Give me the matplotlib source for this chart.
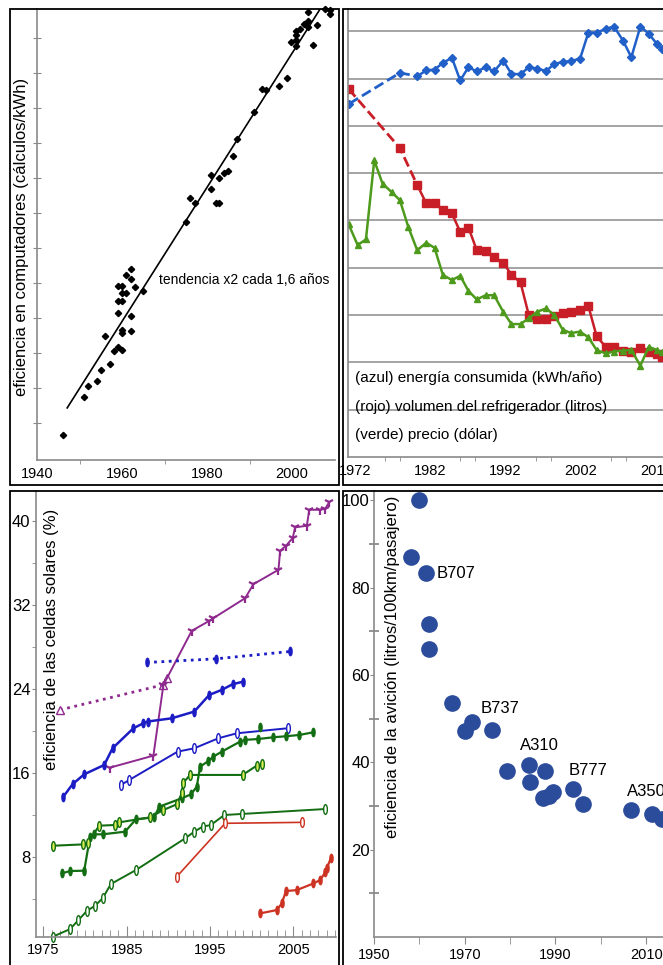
import numpy as np
import matplotlib
matplotlib.use("Agg")
import matplotlib.pyplot as plt
from matplotlib.patches import Rectangle
from matplotlib.path import Path

plt.rcParams['font.family'] = ['Liberation Sans', 'DejaVu Sans']

# ---------------- data ----------------
# panel 1: computers (log units, one tick = one unit)
comp_years = [1946.0, 1951.1, 1952.0, 1954.1, 1955.1, 1956.1, 1957.1, 1958.1, 1959.0, 1960.0,
              1959.0, 1959.0, 1959.0, 1960.1, 1960.1, 1960.1, 1960.1, 1960.1, 1961.0, 1961.0,
              1962.0, 1962.0, 1962.0, 1962.0, 1963.0, 1965.0, 1975.1, 1976.0, 1977.1, 1980.9,
              1980.9, 1982.0, 1982.9, 1982.9, 1984.0, 1985.0, 1986.0, 1987.1, 1991.0, 1992.9,
              1993.9, 1996.9, 1998.9, 1999.8, 2000.9, 2000.9, 2000.9, 2000.9, 2001.9, 2002.8,
              2003.8, 2003.8, 2003.8, 2004.9, 2005.9, 2007.8, 2008.9, 2008.9]
comp_vals = [0.65, 1.74, 2.05, 2.21, 2.50, 3.49, 2.69, 3.05, 3.16, 3.10,
             4.14, 4.50, 4.93, 4.93, 4.48, 4.71, 3.67, 3.57, 4.71, 5.24,
             5.40, 5.11, 4.05, 3.62, 4.90, 4.78, 6.76, 7.42, 7.30, 8.09,
             7.70, 7.30, 7.30, 8.00, 8.14, 8.21, 8.64, 9.11, 9.90, 10.56,
             10.52, 10.63, 10.87, 11.91, 11.95, 12.10, 12.22, 11.78, 12.26, 12.41,
             12.50, 12.75, 12.33, 11.81, 12.38, 12.83, 12.71, 12.81]
trend_years = [1947.1, 2006.6]
trend_vals = [1.43, 12.84]

# panel 2: refrigerators (grid units)
fr_years = [1971.3, 1978.0, 1980.3, 1981.5, 1982.6, 1983.7, 1984.9, 1986.0, 1987.1, 1988.2,
            1989.4, 1990.5, 1991.7, 1992.8, 1994.0, 1995.1, 1996.2, 1997.4, 1998.5, 1999.6,
            2000.7, 2001.9, 2003.0, 2004.1, 2005.3, 2006.4, 2007.6, 2008.7, 2009.9, 2011.0,
            2012.1, 2012.8]
energy = [7.47, 8.12, 8.05, 8.17, 8.19, 8.33, 8.44, 7.96, 8.24, 8.15,
          8.24, 8.15, 8.38, 8.10, 8.09, 8.24, 8.21, 8.16, 8.31, 8.35,
          8.37, 8.42, 8.97, 8.97, 9.05, 9.10, 8.80, 8.45, 9.10, 8.95,
          8.73, 8.63]
volume = [7.78, 6.53, 5.75, 5.36, 5.36, 5.23, 5.15, 4.76, 4.85, 4.37,
          4.36, 4.22, 4.11, 3.85, 3.69, 3.00, 2.91, 2.91, 2.98, 3.04,
          3.07, 3.11, 3.19, 2.55, 2.33, 2.33, 2.25, 2.23, 2.30, 2.23,
          2.17, 2.12]
vol_years = [1971.2] + fr_years[1:]
price_years = [1971.2, 1972.4, 1973.5, 1974.6, 1975.7, 1976.9, 1978.0, 1979.1] + fr_years[2:]
price = [4.92, 4.48, 4.60, 6.27, 5.78, 5.60, 5.43, 4.87,
         4.37, 4.53, 4.42, 3.85, 3.74, 3.83, 3.51, 3.33, 3.42, 3.42,
         3.07, 2.81, 2.81, 2.93, 3.07, 3.14, 3.00, 2.69, 2.62, 2.65,
         2.53, 2.26, 2.19, 2.23, 2.25, 2.26, 1.93, 2.33, 2.26, 2.21]
fr_labels = ["(azul) energía consumida (kWh/año)",
             "(rojo) volumen del refrigerador (litros)",
             "(verde) precio (dólar)"]

# panel 3: solar cells (%)
pur_dash_x = [1977.0, 1989.3, 1989.8]
pur_dash_y = [22.03, 24.41, 25.05]
pur_x = [1983.0, 1988.2, 1989.4, 1992.8, 1994.9, 1995.4, 1999.2, 2000.2, 2003.2, 2003.4,
         2004.1, 2004.9, 2005.2, 2006.6, 2006.9, 2008.2, 2008.8, 2009.3]
pur_y = [16.53, 17.67, 24.41, 29.57, 30.52, 30.78, 32.68, 34.02, 35.39, 37.20,
         37.68, 38.41, 39.43, 39.59, 41.11, 41.11, 41.21, 41.84]
blu_dot_x = [1987.4, 1995.7, 2004.6]
blu_dot_y = [26.55, 26.90, 27.60]
blu_x = [1977.4, 1978.5, 1979.9, 1982.3, 1983.3, 1985.8, 1987.0, 1987.5, 1990.4, 1993.1,
         1994.9, 1996.4, 1997.7, 1999.0]
blu_y = [13.76, 14.94, 15.89, 16.78, 18.37, 20.28, 20.76, 20.92, 21.23, 21.87,
         23.46, 23.94, 24.48, 24.73]
blu_open_x = [1984.3, 1985.3, 1991.1, 1993.1, 1996.0, 1998.2, 2004.3]
blu_open_y = [14.87, 15.35, 18.05, 18.37, 19.33, 19.80, 20.28]
grn_x = [1977.2, 1978.2, 1979.9, 1980.6, 1981.1, 1982.1, 1984.8, 1986.1, 1988.3, 1988.9,
         1991.6, 1992.7, 1993.4, 1993.8, 1994.8, 1995.4, 1996.4, 1998.6, 1999.2, 2000.8,
         2002.6, 2004.1, 2005.7, 2007.4]
grn_y = [6.44, 6.67, 6.70, 9.94, 10.17, 10.17, 10.42, 11.60, 11.79, 12.81,
         13.60, 13.98, 14.71, 16.62, 17.16, 17.58, 18.05, 19.01, 19.17, 19.26,
         19.42, 19.52, 19.64, 19.90]
grn_single_x = [2001.0]
grn_single_y = [20.44]
yg_x = [1976.1, 1979.8, 1980.3, 1981.7, 1983.6, 1984.1, 1987.8, 1989.4, 1991.0, 1991.6,
        1991.8, 1992.6, 1998.9, 2000.6, 2001.2]
yg_y = [9.08, 9.21, 9.31, 10.99, 11.06, 11.31, 11.79, 12.49, 13.03, 14.08,
        15.10, 15.83, 15.83, 16.72, 16.85]
grn_open_x = [1976.1, 1978.2, 1979.2, 1980.2, 1981.2, 1982.1, 1983.1, 1986.1, 1992.0, 1993.1,
              1994.1, 1995.1, 1996.7, 1998.8, 2008.8]
grn_open_y = [0.40, 1.13, 1.99, 2.85, 3.36, 4.06, 5.43, 6.76, 9.78, 10.42,
              10.90, 11.06, 12.01, 12.11, 12.58]
red_open_x = [1991.0, 1996.8, 2006.0]
red_open_y = [6.13, 11.22, 11.31]
red_x = [2001.0, 2003.0, 2003.6, 2004.1, 2005.4, 2007.4, 2008.2, 2008.8, 2009.0, 2009.5]
red_y = [2.63, 2.95, 3.58, 4.76, 4.85, 5.49, 5.81, 6.54, 6.92, 7.94]

# panel 4: aviation
av_years = [1959.9, 1958.1, 1961.4, 1962.1, 1962.1, 1967.2, 1970.1, 1971.6, 1976.0, 1979.3,
            1984.1, 1984.4, 1987.7, 1987.2, 1988.5, 1989.4, 1993.8, 1996.0, 2006.6, 2011.2,
            2013.4]
av_vals = [100.0, 87.1, 83.4, 71.7, 65.9, 53.6, 47.1, 49.3, 47.3, 37.9,
           39.3, 35.4, 37.9, 31.8, 32.3, 33.1, 33.8, 30.4, 29.0, 28.1,
           27.1]
av_names = ["B707", "B737", "A310", "B777", "A350"]
av_name_x = [1963.9, 1973.4, 1982.2, 1992.8, 2005.8]
av_name_y = [83.3, 52.4, 43.9, 38.2, 33.4]

# ---------------- figure ----------------
W, H = 663, 965
fig = plt.figure(figsize=(W / 100, H / 100), dpi=100)
GRAY = '#8a8a8a'


def px_axes(l, t, r, b):
    return fig.add_axes([l / W, 1 - b / H, (r - l) / W, (b - t) / H])


def style(ax):
    for s in ['top', 'right']:
        ax.spines[s].set_visible(False)
    for s in ['left', 'bottom']:
        ax.spines[s].set_color(GRAY)
        ax.spines[s].set_linewidth(1.2)
    ax.patch.set_alpha(0)
    ax.tick_params(which='both', color=GRAY)


circ = Path.unit_circle()
ell = Path(circ.vertices * [0.38, 1.0], circ.codes)

# panel 1
ax1 = px_axes(37, 9, 335, 460)
style(ax1)
ax1.plot(trend_years, trend_vals, color='black', lw=1.2)
ax1.plot(comp_years, comp_vals, 'D', color='black', ms=3.2, clip_on=False)
ax1.set_xlim(1940, 2010.1)
ax1.set_ylim(-0.06, 12.84)
ax1.set_xticks([1940, 1960, 1980, 2000])
ax1.set_xticks([1950, 1970, 1990], minor=True)
ax1.set_yticks(range(1, 13))
ax1.set_yticklabels([])
ax1.tick_params(axis='x', which='major', length=0, labelsize=10.5, pad=5)
ax1.tick_params(axis='x', which='minor', length=3)
ax1.tick_params(axis='y', direction='inout', length=6)
ax1.text(1968.6, 5.1, "tendencia x2 cada 1,6 años", fontsize=10, va='center', ha='left')
fig.text(22 / W, 1 - 237 / H, "eficiencia en computadores (cálculos/kWh)", rotation=90,
         ha='center', va='center', fontsize=12)

# panel 2
ax2 = px_axes(348, 9, 663, 457)
style(ax2)
ax2.set_xlim(1971.12, 2012.9)
ax2.set_ylim(0, 9.47)
ax2.set_yticks(range(1, 10))
ax2.set_yticklabels([])
ax2.grid(axis='y', color='#8c8c8c', lw=1.1)
ax2.tick_params(axis='y', length=0)
ax2.set_xticks([1972, 1982, 1992, 2002, 2012])
ax2.set_xticks([1976, 1978, 1986, 1988, 1996, 1998, 2006, 2008], minor=True)
ax2.tick_params(axis='x', which='major', length=0, labelsize=10.5, pad=5)
ax2.tick_params(axis='x', which='minor', length=3)
BLUE, RED, GREEN = '#2160c8', '#c81e28', '#4e9a1c'
ax2.plot(fr_years[:3], energy[:3], '--', color=BLUE, lw=2)
ax2.plot(fr_years[:2], energy[:2], 'D', color=BLUE, ms=4.5)
ax2.plot(fr_years[2:], energy[2:], '-D', color=BLUE, lw=1.8, ms=4.5)
ax2.plot(vol_years[:3], volume[:3], '--', color=RED, lw=2)
ax2.plot(vol_years[:2], volume[:2], 's', color=RED, ms=5.5)
ax2.plot(vol_years[2:], volume[2:], '-s', color=RED, lw=1.8, ms=5.5)
ax2.plot(price_years, price, '-^', color=GREEN, lw=1.8, ms=5)
for i, t in enumerate(fr_labels):
    ax2.text(1972.0, (457 - [378, 407, 435][i]) / 47.3, t, fontsize=11, va='center', ha='left')

# panel 3
ax3 = px_axes(36, 491, 336, 937)
style(ax3)
ax3.set_xlim(1974.12, 2010.1)
ax3.set_ylim(0.38, 42.9)
ax3.set_yticks([8, 16, 24, 32, 40])
ax3.set_yticks([4, 12, 20, 28, 36], minor=True)
ax3.tick_params(axis='y', which='both', direction='out', length=3, labelsize=12, pad=1)
ax3.set_xticks([1975, 1985, 1995, 2005])
ax3.set_xticks(range(1975, 2011), minor=True)
ax3.tick_params(axis='x', which='major', direction='in', length=8, labelsize=10.5, pad=4)
ax3.tick_params(axis='x', which='minor', direction='in', length=5)
PUR, DBLU, DGRN, YG, RD = '#8e2a8e', '#1c1cc4', '#136e13', '#d8ee55', '#cc3322'
ax3.plot(pur_dash_x, pur_dash_y, ':', color=PUR, lw=2, marker='^', mfc='white', ms=6)
ax3.plot(pur_x, pur_y, '-', color=PUR, lw=1.4, marker='1', ms=7, mew=1.6)
ax3.plot(blu_dot_x, blu_dot_y, ':', color=DBLU, lw=2, marker=ell, ms=6)
ax3.plot(blu_x, blu_y, '-', color=DBLU, lw=1.8, marker=ell, ms=6)
ax3.plot(blu_open_x, blu_open_y, '-', color=DBLU, lw=1.4, marker=ell, mfc='white', ms=7)
ax3.plot(grn_x, grn_y, '-', color=DGRN, lw=1.6, marker=ell, ms=6)
ax3.plot(grn_single_x, grn_single_y, ls='none', color=DGRN, marker=ell, ms=6)
ax3.plot(yg_x, yg_y, '-', color=DGRN, lw=1.5, marker=ell, mfc=YG, ms=7)
ax3.plot(grn_open_x, grn_open_y, '-', color=DGRN, lw=1.4, marker=ell, mfc='white', ms=7,
         clip_on=False)
ax3.plot(red_open_x, red_open_y, '-', color=RD, lw=1.2, marker=ell, mfc='white', ms=7)
ax3.plot(red_x, red_y, '-', color=RD, lw=1.6, marker=ell, ms=6)
fig.text(52 / W, 1 - 639 / H, "eficiencia de las celdas solares (%)", rotation=90,
         ha='center', va='center', fontsize=12)

# panel 4
ax4 = px_axes(374, 491, 663, 937)
style(ax4)
ax4.set_xlim(1950, 2013.7)
ax4.set_ylim(0, 102.1)
ax4.set_yticks([20, 40, 60, 80, 100])
ax4.set_yticks([10, 30, 50, 70, 90], minor=True)
ax4.tick_params(axis='y', which='major', direction='out', length=3, labelsize=12, pad=0)
ax4.tick_params(axis='y', which='minor', direction='inout', length=7, width=1.3)
ax4.set_xticks([1950, 1970, 1990, 2010])
ax4.set_xticks([1960, 1980, 2000], minor=True)
ax4.tick_params(axis='x', which='both', direction='out', length=5, labelsize=10.5, pad=3)
ax4.plot(av_years, av_vals, 'o', color='#2b4b9b', ms=11, clip_on=False)
for n, x, y in zip(av_names, av_name_x, av_name_y):
    ax4.text(x, y, n, fontsize=12, ha='left', va='center')
fig.text(393 / W, 1 - 667 / H, "eficiencia de la avición (litros/100km/pasajero)", rotation=90,
         ha='center', va='center', fontsize=12)

# panel frames
for l, t, r, b in [(10, 9, 339, 485), (343, 9, 664, 485), (10, 491, 339, 966), (343, 491, 664, 966)]:
    fig.add_artist(Rectangle((l / W, 1 - b / H), (r - l) / W, (b - t) / H,
                             transform=fig.transFigure, fill=False, lw=1.3, ec='black'))

fig.savefig("out.png", dpi=100)
